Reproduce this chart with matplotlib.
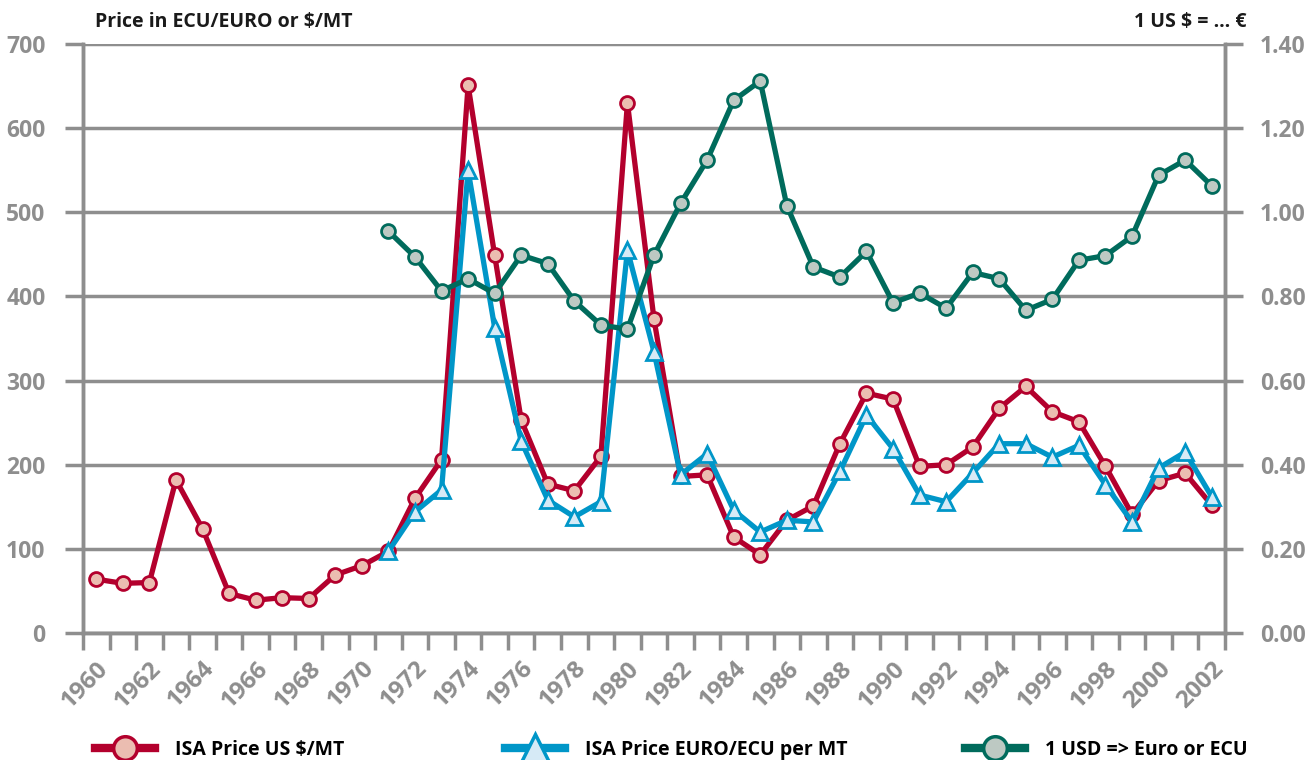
import matplotlib
matplotlib.use('Agg')
import matplotlib.pyplot as plt
from matplotlib.lines import Line2D
from matplotlib.ticker import FormatStrFormatter

plt.rcParams['font.family'] = ['Open Sans', 'DejaVu Sans']
plt.rcParams['font.weight'] = 'bold'

# ISA sugar price series and the dollar/euro rate
years = list(range(1960, 2003))
isa_usd = [64, 59, 60, 182, 124, 47, 39, 42, 41, 69, 80, 97, 160, 206, 651,
           449, 253, 177, 169, 210, 630, 373, 186, 188, 114, 93, 134, 151,
           225, 285, 278, 198, 200, 221, 267, 293, 263, 251, 198, 141, 181,
           190, 152]
euro_years = list(range(1971, 2003))
isa_euro = [97, 144, 170, 550, 363, 228, 158, 138, 156, 455, 334, 188, 213,
            146, 120, 134, 132, 192, 259, 219, 164, 156, 190, 225, 225, 209,
            223, 176, 132, 196, 215, 162]
usd_to_euro = [0.955, 0.894, 0.813, 0.842, 0.807, 0.898, 0.878, 0.789, 0.732,
               0.722, 0.898, 1.021, 1.124, 1.266, 1.312, 1.016, 0.870, 0.846,
               0.907, 0.785, 0.808, 0.772, 0.857, 0.842, 0.767, 0.793, 0.886,
               0.897, 0.943, 1.088, 1.124, 1.063]

labels = ['ISA Price US $/MT', 'ISA Price EURO/ECU per MT', '1 USD => Euro or ECU']

red, red_face = '#b3002d', '#ebbdb1'
blue, blue_face = '#0096c8', '#d6eaf6'
green, green_face = '#006b5c', '#bdc9c3'
grey = '#8e8e8e'

W, H = 1313, 760
fig = plt.figure(figsize=(W / 100, H / 100), dpi=100)
ax = fig.add_axes([83 / W, 1 - 633 / H, (1225 - 83) / W, (633 - 44) / H])
ax2 = ax.twinx()

ax.plot(years, isa_usd, color=red, lw=3.8, marker='o', ms=10,
        mfc=red_face, mec=red, mew=2, zorder=3)
ax.plot(euro_years, isa_euro, color=blue, lw=3.8, marker='^', ms=11.5,
        mfc=blue_face, mec=blue, mew=2, zorder=4)
ax2.plot(euro_years, usd_to_euro, color=green, lw=3.8, marker='o', ms=10,
         mfc=green_face, mec=green, mew=2, zorder=5)

ax.set_xlim(1959.5, 2002.5)
ax.set_ylim(0, 700)
ax2.set_ylim(0, 1.4)
ax.set_yticks(range(0, 701, 100))
ax2.set_yticks([i * 0.2 for i in range(8)])
ax2.yaxis.set_major_formatter(FormatStrFormatter('%.2f'))

ax.set_xticks(years[::2])
ax.set_xticklabels([str(y) for y in years[::2]], rotation=45, ha='right',
                   va='top', rotation_mode='anchor')
ax.set_xticks([y - 0.5 for y in years] + [2002.5], minor=True)

ax.grid(axis='y', color=grey, lw=2.5, zorder=0)
ax.set_axisbelow(True)
ax.tick_params(axis='x', which='major', length=0, pad=17, labelsize=17.5,
               labelcolor=grey)
ax.tick_params(axis='x', which='minor', length=12, width=2.5, color=grey,
               direction='out')
ax.tick_params(axis='y', length=13, width=2.5, color=grey, pad=14,
               labelsize=16.5, labelcolor=grey)
ax2.tick_params(axis='y', length=13, width=2.5, color=grey, pad=12,
                labelsize=16.5, labelcolor=grey)

for a in (ax, ax2):
    a.spines['top'].set_visible(False)
    for side in ('left', 'right', 'bottom'):
        a.spines[side].set_color(grey)
        a.spines[side].set_linewidth(2.5)

fig.text(95 / W, 1 - 22 / H, 'Price in ECU/EURO or $/MT', fontsize=14,
         weight='bold', color='#1a1a1a', va='center')
fig.text(1247 / W, 1 - 22 / H, '1 US $ = … €', fontsize=14,
         weight='bold', color='#1a1a1a', va='center', ha='right')

# legend entries laid out along the bottom edge
handles = [
    Line2D([], [], color=red, lw=6, marker='o', ms=17, mfc=red_face,
           mec=red, mew=2.5),
    Line2D([], [], color=blue, lw=6, marker='^', ms=20, mfc=blue_face,
           mec=blue, mew=2.5),
    Line2D([], [], color=green, lw=6, marker='o', ms=17, mfc=green_face,
           mec=green, mew=2.5),
]
for h, lab, x in zip(handles, labels, (95, 505, 965)):
    fig.legend([h], [lab], loc='center left', bbox_to_anchor=(x / W, 1 - 750 / H),
               frameon=False, fontsize=14, handlelength=3.1, handletextpad=1.0,
               borderpad=0, borderaxespad=0)

fig.savefig('out.png', dpi=100)
